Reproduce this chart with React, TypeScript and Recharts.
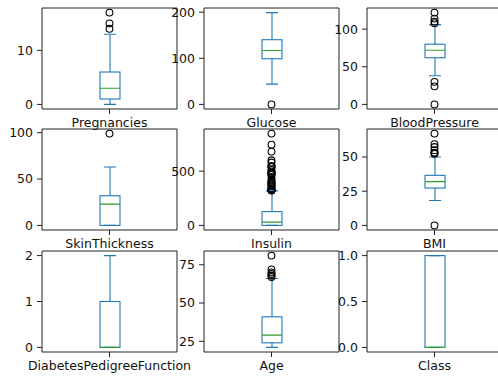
import { ComposedChart, Bar, Scatter, XAxis, YAxis } from "recharts";

const FEATURES = [
  "Pregnancies", "Glucose", "BloodPressure",
  "SkinThickness", "Insulin", "BMI",
  "DiabetesPedigreeFunction", "Age", "Class",
];

// box plot stats per feature
const WHISKER_LOW = [0, 44, 38, 0, 0, 18.2, 0, 21, 0];
const Q1 = [1, 99, 62, 0, 0, 27.3, 0, 24, 0];
const MEDIAN = [3, 117, 72, 23, 30.5, 32, 0, 29, 0];
const Q3 = [6, 140.25, 80, 32, 127.25, 36.6, 1, 41, 1];
const WHISKER_HIGH = [13, 199, 106, 63, 318, 50, 2, 66, 1];

const OUTLIERS: number[][] = [
  [14, 15, 17],
  [0],
  [0, 24, 30, 108, 110, 114, 122],
  [99],
  [321, 325, 326, 328, 330, 335, 342, 360, 370, 375, 387, 392, 402, 415, 440,
   465, 474, 478, 480, 485, 495, 510, 540, 543, 545, 579, 600, 680, 744, 846],
  [0, 52.3, 52.9, 53.2, 55, 57.3, 59.4, 67.1],
  [],
  [67, 68, 69, 70, 72, 81],
  [],
];

const Y_TICKS: number[][] = [
  [0, 10], [0, 100, 200], [0, 50, 100],
  [0, 50, 100], [0, 500], [0, 25, 50],
  [0, 1, 2], [25, 50, 75], [0, 0.5, 1],
];

const COL_LEFT = [42, 204, 367];
const ROW_TOP = [8, 129, 251];
const PLOT_W = 135;
const PLOT_H = 101;
const Y_W = 42;
const X_H = 26;
const TOP = 7;
const RIGHT = 5;

const FONT = { fontFamily: "DejaVu Sans", fontSize: 12.5, fill: "#111" };
const SPINE = "#222";
const BLUE = "#1f77b4";

function BoxShape(props: any) {
  const { x, y, width, height, payload } = props;
  const [lo, hi] = payload.range;
  const top = Math.min(y, y + height);
  const h = Math.abs(height);
  const py = (v: number) => top + (h * (hi - v)) / (hi - lo);
  const cx = x + width / 2;
  const cap = width * 0.3;
  return (
    <g>
      <line x1={cx} x2={cx} y1={py(payload.q3)} y2={py(hi)} stroke={BLUE} strokeWidth={1.1} />
      <line x1={cx} x2={cx} y1={py(payload.q1)} y2={py(lo)} stroke={BLUE} strokeWidth={1.1} />
      <line x1={cx - cap} x2={cx + cap} y1={py(hi)} y2={py(hi)} stroke={BLUE} strokeWidth={1.1} />
      <line x1={cx - cap} x2={cx + cap} y1={py(lo)} y2={py(lo)} stroke={BLUE} strokeWidth={1.1} />
      <rect x={x} y={py(payload.q3)} width={width} height={py(payload.q1) - py(payload.q3)}
        fill="none" stroke={BLUE} strokeWidth={1.1} />
      <line x1={x} x2={x + width} y1={py(payload.median)} y2={py(payload.median)} stroke="#2ca02c" strokeWidth={1.1} />
    </g>
  );
}

function Flier(props: any) {
  return <circle cx={props.cx} cy={props.cy} r={3.4} fill="none" stroke="#000" strokeWidth={1.1} />;
}

function BoxPanel({ i }: { i: number }) {
  const name = FEATURES[i];
  const data = [{
    name,
    range: [WHISKER_LOW[i], WHISKER_HIGH[i]],
    q1: Q1[i], q3: Q3[i], median: MEDIAN[i],
  }];
  const fliers = OUTLIERS[i].map((v) => ({ name, v }));
  const all = [WHISKER_LOW[i], WHISKER_HIGH[i], ...OUTLIERS[i]];
  const mn = Math.min(...all);
  const mx = Math.max(...all);
  const pad = (mx - mn) * 0.05;
  const domain = [mn - pad, mx + pad];
  const fmt = (v: number) => (name === "Class" ? v.toFixed(1) : String(v));
  const col = i % 3;
  const row = Math.floor(i / 3);

  return (
    <div style={{ position: "absolute", left: COL_LEFT[col] - Y_W, top: ROW_TOP[row] - TOP - 1 }}>
      <ComposedChart
        width={Y_W + PLOT_W + 1 + RIGHT}
        height={TOP + 1 + PLOT_H + X_H}
        data={data}
        margin={{ top: TOP, right: RIGHT, bottom: 0, left: 0 }}
      >
        <XAxis
          dataKey="name"
          type="category"
          allowDuplicatedCategory={false}
          height={X_H}
          interval={0}
          tick={FONT}
          tickSize={5}
          tickMargin={4}
          axisLine={{ stroke: SPINE }}
          tickLine={{ stroke: SPINE }}
        />
        <XAxis xAxisId="top" dataKey="name" type="category" orientation="top" height={1} tick={false}
          tickLine={false} axisLine={{ stroke: SPINE }} allowDuplicatedCategory={false} />
        <YAxis
          type="number"
          domain={domain}
          allowDataOverflow
          ticks={Y_TICKS[i]}
          tickFormatter={fmt}
          width={Y_W}
          tick={FONT}
          tickSize={5}
          tickMargin={4}
          axisLine={{ stroke: SPINE }}
          tickLine={{ stroke: SPINE }}
        />
        <YAxis yAxisId="right" orientation="right" type="number" domain={domain}
          allowDataOverflow width={1} tick={false} tickLine={false} axisLine={{ stroke: SPINE }} />
        <Bar dataKey="range" barSize={20} shape={BoxShape} isAnimationActive={false} />
        <Scatter xAxisId="top" yAxisId="right" data={fliers} dataKey="v" shape={Flier} isAnimationActive={false} />
      </ComposedChart>
    </div>
  );
}

export default function App() {
  return (
    <div style={{ position: "absolute", left: 0, top: 0, width: 498, height: 376, overflow: "hidden", background: "#fff" }}>
      <style>{"svg.recharts-surface{overflow:visible}"}</style>
      {FEATURES.map((_, i) => (
        <BoxPanel key={i} i={i} />
      ))}
    </div>
  );
}
